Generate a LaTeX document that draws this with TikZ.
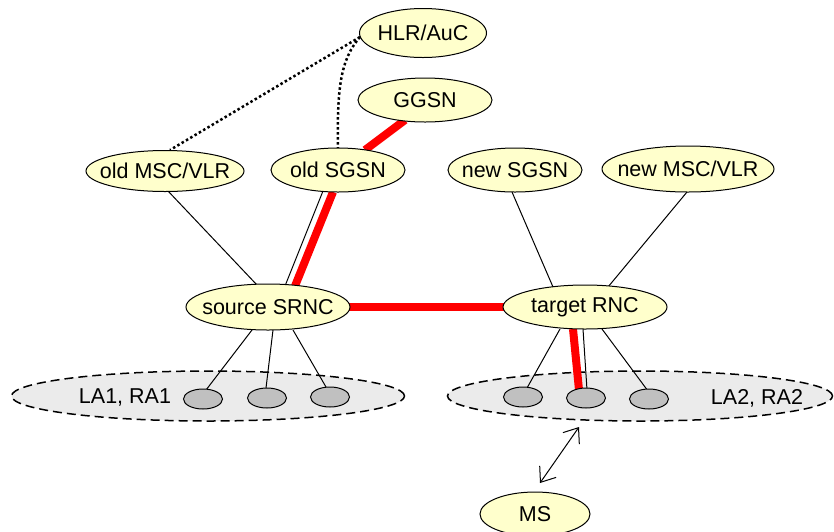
\documentclass[tikz,border=0pt]{standalone}
\usepackage{fontspec}
\setmainfont{Liberation Sans}
\usetikzlibrary{shapes.geometric,calc,arrows.meta}
\pgfdeclarelayer{clouds}
\pgfdeclarelayer{lines}
\pgfsetlayers{clouds,lines,main}
\definecolor{nodefill}{HTML}{FFFFCC}
\definecolor{cloudfill}{HTML}{EBEBEB}
\definecolor{cellfill}{HTML}{C0C0C0}
\definecolor{linkred}{HTML}{FF0000}
\tikzset{
  netnode/.style={ellipse, draw=black, line width=1pt, fill=nodefill, inner sep=0pt,
    label={[inner sep=0pt, font=\fontsize{21.5}{24}\selectfont]center:#1}},
  area/.style={ellipse, draw=black, line width=1.5pt, dash pattern=on 9pt off 5pt,
    fill=cloudfill, inner sep=0pt},
  cell/.style={ellipse, draw=black, line width=1pt, fill=cellfill, inner sep=0pt,
    minimum width=39pt, minimum height=20pt},
  arealabel/.style={inner sep=0pt, font=\fontsize{21.5}{24}\selectfont},
  thinlink/.style={draw=black, line width=1pt},
  redlink/.style={draw=linkred, line width=8pt},
  sigdots/.style={draw=black, line width=2.5pt, dash pattern=on 2.5pt off 2.5pt},
  radiolink/.style={draw=black, line width=1pt, {Straight Barb[length=13pt,width=20pt]}-{Straight Barb[length=13pt,width=20pt]}}
}
\begin{document}
\begin{tikzpicture}[x=1pt,y=-1pt]
\useasboundingbox (0,0) rectangle (834,531);

\begin{pgfonlayer}{clouds}
\node[area, minimum width=393pt, minimum height=50pt] (la1) at (208,396) {};
\node[area, minimum width=385pt, minimum height=50pt] (la2) at (640,396) {};
\end{pgfonlayer}

\node[netnode={HLR/AuC}, minimum width=127pt, minimum height=49pt] (hlr) at (423,33) {};
\node[netnode={GGSN}, minimum width=134pt, minimum height=44pt] (ggsn) at (425,100) {};
\node[netnode={old SGSN}, minimum width=134pt, minimum height=44pt] (oldsgsn) at (338,170) {};
\node[netnode={old MSC/VLR}, minimum width=158pt, minimum height=41pt] (oldmsc) at (165,171) {};
\node[netnode={new SGSN}, minimum width=134pt, minimum height=44pt] (newsgsn) at (515,170) {};
\node[netnode={new MSC/VLR}, minimum width=172pt, minimum height=46pt] (newmsc) at (688,169) {};
\node[netnode={source SRNC}, minimum width=164pt, minimum height=46pt] (src) at (268,307) {};
\node[netnode={target RNC}, minimum width=164pt, minimum height=44pt] (tgt) at (585,307) {};
\node[netnode={MS}, minimum width=110pt, minimum height=44pt] (ms) at (535,514) {};

\node[cell] (c1) at (203,399) {};
\node[cell] (c2) at (267,398) {};
\node[cell] (c3) at (330,397) {};
\node[cell] (c4) at (523,397) {};
\node[cell] (c5) at (586,398) {};
\node[cell] (c6) at (649,399) {};

\node[arealabel] (la1text) at (125,397) {LA1, RA1};
\node[arealabel] (la2text) at (757,398) {LA2, RA2};

\begin{pgfonlayer}{lines}
% signalling to HLR
\draw[sigdots] ($(hlr.center)+(-63,4)$) -- ($(oldmsc.center)+(5,-21)$);
\draw[sigdots] ($(hlr.center)+(-63,4)$) .. controls (340,60) and (337,90) .. ($(oldsgsn.center)+(0,-22)$);
% core links
\draw[thinlink] ($(oldmsc.center)+(3,20)$) -- ($(src.center)+(-11,-22)$);
\draw[thinlink] ($(oldsgsn.center)+(-15,21)$) -- ($(src.center)+(17,-21)$);
\draw[thinlink] ($(newsgsn.center)+(-3,22)$) -- ($(tgt.center)+(-32,-20)$);
\draw[thinlink] ($(newmsc.center)+(-1,23)$) -- ($(tgt.center)+(23,-20)$);
% user plane path
\draw[redlink] ($(ggsn.center)+(-20,20)$) -- ($(oldsgsn.center)+(27,-20)$);
\draw[redlink] ($(oldsgsn.center)+(-5,22)$) -- ($(src.center)+(27,-21)$);
\draw[redlink] (src.center) -- (tgt.center);
\draw[redlink] ($(tgt.center)+(-12,22)$) -- ($(c5.center)+(-7,-8)$);
% radio links
\draw[thinlink] ($(src.center)+(-16,23)$) -- ($(c1.center)+(3,-9)$);
\draw[thinlink] ($(src.center)+(5,23)$) -- ($(c2.center)+(-1,-10)$);
\draw[thinlink] ($(src.center)+(25,23)$) -- ($(c3.center)+(-4,-10)$);
\draw[thinlink] ($(tgt.center)+(-25,22)$) -- ($(c4.center)+(4,-9)$);
\draw[thinlink] ($(tgt.center)+(-2,22)$) -- ($(c5.center)+(1,-8)$);
\draw[thinlink] ($(tgt.center)+(17,22)$) -- ($(c6.center)+(-1,-8)$);
% MS air interface
\draw[radiolink] ($(ms.center)+(5,-31)$) -- ($(la2.center)+(-61,31)$);
\end{pgfonlayer}
\end{tikzpicture}
\end{document}
